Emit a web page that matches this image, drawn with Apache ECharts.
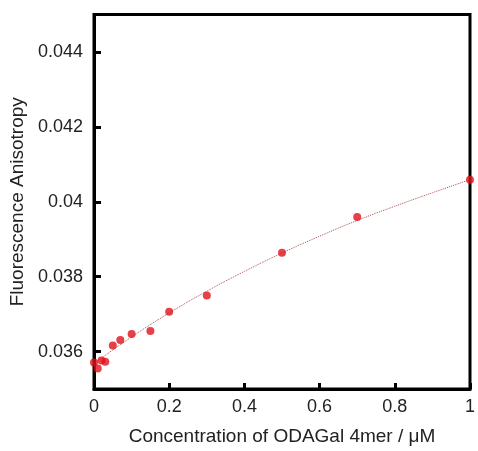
<!DOCTYPE html>
<html>
<head>
<meta charset="utf-8">
<script src="https://cdn.jsdelivr.net/npm/echarts@6/dist/echarts.min.js"></script>
<style>html,body{margin:0;padding:0;background:#fff}#c{width:478px;height:451px}</style>
</head>
<body>
<div id="c"></div>
<script>
// Measured data points (concentration µM, anisotropy)
const concentration = [0, 0.01, 0.02, 0.03, 0.05, 0.07, 0.1, 0.15, 0.2, 0.3, 0.5, 0.7, 1.0];
const anisotropy = [0.03571, 0.03555, 0.03576, 0.03573, 0.03616, 0.03631, 0.03647, 0.03655, 0.03706, 0.0375, 0.03864, 0.03959, 0.04059];
// Fit curve
const fitX = [0, 0.1, 0.2, 0.3, 0.4, 0.5, 0.6, 0.7, 0.8, 0.9, 1.0];
const fitY = [0.03568, 0.03639, 0.03703, 0.03761, 0.03814, 0.03863, 0.03908, 0.0395, 0.03988, 0.04024, 0.04059];
const yTicks = [0.036, 0.038, 0.04, 0.042, 0.044];

const FONT = "'Liberation Sans', Arial, sans-serif";
const chart = echarts.init(document.getElementById('c'), null, {renderer: 'canvas'});
chart.setOption({
  animation: false,
  backgroundColor: '#fff',
  grid: {left: 94, right: 6.5, top: 14.5, bottom: 60, show: true, borderColor: '#000', borderWidth: 3, backgroundColor: 'transparent'},
  xAxis: {
    type: 'value', min: 0, max: 1, interval: 0.2,
    name: 'Concentration of ODAGal 4mer / \u03bcM', nameLocation: 'middle', nameGap: 38,
    nameTextStyle: {fontFamily: FONT, fontSize: 19, color: '#222'},
    axisLine: {show: true, onZero: false, lineStyle: {color: '#000', width: 3}},
    axisTick: {show: true, inside: true, length: 6, lineStyle: {color: '#000', width: 3}},
    axisLabel: {fontFamily: FONT, fontSize: 18, color: '#222', margin: 9},
    splitLine: {show: false}
  },
  yAxis: {
    type: 'value', min: 0.035, max: 0.045,
    name: 'Fluorescence Anisotropy', nameLocation: 'middle', nameGap: 64, nameRotate: 90,
    nameTextStyle: {fontFamily: FONT, fontSize: 19, color: '#222'},
    axisLine: {show: true, onZero: false, lineStyle: {color: '#000', width: 3}},
    axisTick: {show: true, inside: true, length: 7, customValues: yTicks, lineStyle: {color: '#000', width: 3}},
    axisLabel: {fontFamily: FONT, fontSize: 18, color: '#222', margin: 11, customValues: yTicks},
    splitLine: {show: false}
  },
  series: [
    {
      type: 'line', data: fitX.map((x, i) => [x, fitY[i]]), smooth: true, showSymbol: false, symbol: 'none',
      lineStyle: {color: '#b05050', width: 1, type: 'dotted'}, z: 2, silent: true
    },
    {
      type: 'scatter', data: concentration.map((x, i) => [x, anisotropy[i]]), symbolSize: 8,
      itemStyle: {color: '#e0121a'}, clip: false, z: 3
    }
  ]
});
</script>
</body>
</html>
